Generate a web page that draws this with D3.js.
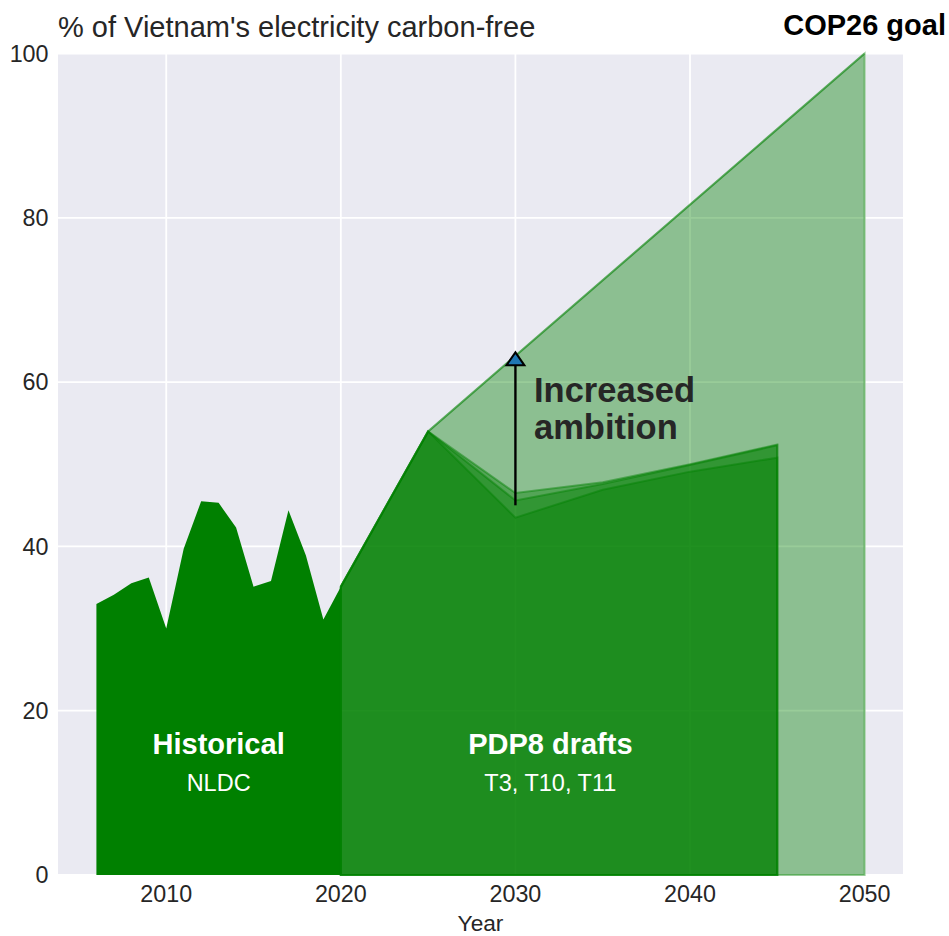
<!DOCTYPE html>
<html>
<head>
<meta charset="utf-8">
<script src="https://cdn.jsdelivr.net/npm/d3@7"></script>
<style>
  html, body { margin: 0; padding: 0; background: #fff; }
  svg { display: block; font-family: "Liberation Sans", Arial, sans-serif; }
</style>
</head>
<body>
<svg id="chart" width="949" height="936"></svg>
<script>
// ---- data ----
const histYears = [2006, 2007, 2008, 2009, 2010, 2011, 2012, 2013, 2014, 2015, 2016, 2017, 2018, 2019, 2020];
const histValues = [33.0, 34.1, 35.5, 36.2, 30.0, 39.7, 45.5, 45.3, 42.3, 35.1, 35.8, 44.4, 38.9, 31.1, 35.1];

const draftYears = [2020, 2025, 2030, 2035, 2040, 2045];
const draftT3  = [35.1, 54.0, 46.5, 47.8, 50.0, 52.4];
const draftT10 = [35.1, 54.0, 45.6, 47.6, 49.9, 52.3];
const draftT11 = [35.1, 54.0, 43.5, 46.9, 49.1, 50.8];

const goalYears = [2020, 2025, 2050];
const goalValues = [35.1, 54.0, 100];

const xTicks = [2010, 2020, 2030, 2040, 2050];
const yTicks = [0, 20, 40, 60, 80, 100];

const arrowYear = 2030, arrowFrom = 45.0, arrowTo = 63.2;

// ---- layout ----
const svg = d3.select("#chart");
const pL = 58, pR = 903, pT = 53.5, pB = 875;
const x = d3.scaleLinear().domain([2003.8, 2052.2]).range([pL, pR]);
const y = d3.scaleLinear().domain([0, 100]).range([pB, pT]);
const textColor = "#262626";
const green = "#008000";

// background
svg.append("rect").attr("x", pL).attr("y", pT)
  .attr("width", pR - pL).attr("height", pB - pT)
  .attr("fill", "#EAEAF2");

// grid
const grid = svg.append("g");
grid.selectAll("line.v").data(xTicks).enter().append("line")
  .attr("x1", d => x(d)).attr("x2", d => x(d))
  .attr("y1", pT).attr("y2", pB)
  .attr("stroke", "#fff").attr("stroke-width", 1.8);
grid.selectAll("line.h").data(yTicks).enter().append("line")
  .attr("x1", pL).attr("x2", pR)
  .attr("y1", d => y(d)).attr("y2", d => y(d))
  .attr("stroke", "#fff").attr("stroke-width", 1.8);

const area = d3.area().x(d => x(d[0])).y0(y(0)).y1(d => y(d[1]));
const topLine = d3.line().x(d => x(d[0])).y(d => y(d[1]));

// historical
svg.append("path")
  .datum(histYears.map((yr, i) => [yr, histValues[i]]))
  .attr("d", area)
  .attr("fill", green);

// COP26 goal
const goalData = goalYears.map((yr, i) => [yr, goalValues[i]]);
svg.append("path")
  .datum(goalData)
  .attr("d", area)
  .attr("fill", green).attr("fill-opacity", 0.4)
  .attr("stroke", green).attr("stroke-opacity", 0.4).attr("stroke-width", 2);
svg.append("path")
  .datum(goalData)
  .attr("d", topLine)
  .attr("fill", "none")
  .attr("stroke", green).attr("stroke-opacity", 0.35).attr("stroke-width", 2.2);

// drafts
[draftT3, draftT10, draftT11].forEach(vals => {
  svg.append("path")
    .datum(draftYears.map((yr, i) => [yr, vals[i]]))
    .attr("d", area)
    .attr("fill", green).attr("fill-opacity", 0.4)
    .attr("stroke", green).attr("stroke-opacity", 0.45).attr("stroke-width", 2);
});

// arrow
const ax = x(arrowYear);
const tipY = y(arrowTo) - 3.5;
svg.append("line")
  .attr("x1", ax).attr("x2", ax)
  .attr("y1", y(arrowFrom)).attr("y2", tipY + 12)
  .attr("stroke", "#000").attr("stroke-width", 2.4);
svg.append("path")
  .attr("d", `M${ax},${tipY} L${ax - 9},${tipY + 13} L${ax + 9},${tipY + 13} Z`)
  .attr("fill", "#1f77b4").attr("stroke", "#000").attr("stroke-width", 2)
  .attr("stroke-linejoin", "miter");

// axes tick labels
svg.append("g").selectAll("text").data(xTicks).enter().append("text")
  .attr("x", d => x(d)).attr("y", 902)
  .attr("text-anchor", "middle").attr("font-size", 23.3).attr("fill", textColor)
  .text(d => d);
svg.append("g").selectAll("text").data(yTicks).enter().append("text")
  .attr("x", 48.5).attr("y", d => y(d) + 8.3)
  .attr("text-anchor", "end").attr("font-size", 23.3).attr("fill", textColor)
  .text(d => d);

svg.append("text").attr("x", (pL + pR) / 2).attr("y", 931)
  .attr("text-anchor", "middle").attr("font-size", 22.7).attr("fill", textColor)
  .text("Year");

// title
svg.append("text").attr("x", 58).attr("y", 37)
  .attr("font-size", 29).attr("fill", textColor)
  .text("% of Vietnam's electricity carbon-free");

svg.append("text").attr("x", x(2050)).attr("y", 35)
  .attr("text-anchor", "middle").attr("font-size", 29).attr("font-weight", "bold").attr("fill", "#000")
  .text("COP26 goal");

// annotations
svg.append("text").attr("x", 534).attr("y", 402)
  .attr("font-size", 34.5).attr("font-weight", "bold").attr("fill", textColor)
  .text("Increased");
svg.append("text").attr("x", 534).attr("y", 439)
  .attr("font-size", 34.5).attr("font-weight", "bold").attr("fill", textColor)
  .text("ambition");

svg.append("text").attr("x", x(2013)).attr("y", 754)
  .attr("text-anchor", "middle").attr("font-size", 29).attr("font-weight", "bold").attr("fill", "#fff")
  .text("Historical");
svg.append("text").attr("x", x(2013)).attr("y", 790.5)
  .attr("text-anchor", "middle").attr("font-size", 23.5).attr("fill", "#fff")
  .text("NLDC");
svg.append("text").attr("x", x(2032)).attr("y", 754)
  .attr("text-anchor", "middle").attr("font-size", 29).attr("font-weight", "bold").attr("fill", "#fff")
  .text("PDP8 drafts");
svg.append("text").attr("x", x(2032)).attr("y", 790.5)
  .attr("text-anchor", "middle").attr("font-size", 23.5).attr("fill", "#fff")
  .text("T3, T10, T11");
</script>
</body>
</html>
